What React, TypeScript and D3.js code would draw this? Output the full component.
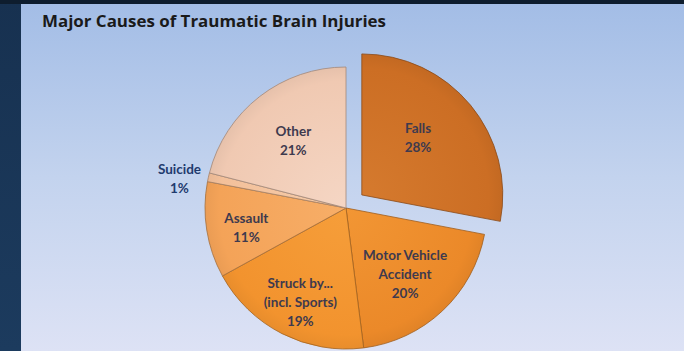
import React from "react";
import * as d3 from "d3";

const categories = ["Falls", "Motor Vehicle Accident", "Struck by... (incl. Sports)", "Assault", "Suicide", "Other"];
const values = [28, 20, 19, 11, 1, 21];
const labelLines = [
  ["Falls", "28%"],
  ["Motor Vehicle", "Accident", "20%"],
  ["Struck by...", "(incl. Sports)", "19%"],
  ["Assault", "11%"],
  ["Suicide", "1%"],
  ["Other", "21%"],
];
const colors = ["#CC6E24", "#EB8929", "#F2932E", "#F4A358", "#F3C09A", "#F0C9B2"];
const colorsLight = ["#D57A2E", "#F29634", "#F69E3A", "#F7AE68", "#F6CCAA", "#F5D6C4"];
// label distance from the slice centre (fraction of radius) and angular nudge (degrees)
const labelRadius = [0.57, 0.63, 0.74, 0.72, 1.2, 0.61];
const labelAngleShift = [-6, 1.5, -1, -2, -2.4, 0];

const W = 684;
const H = 351;
const cx = 346;
const cy = 208;
const R = 141;
const explodeOffset = 20.5;

export default function App() {
  const pie = d3.pie<number>().value((d) => d).sort(null);
  const arcs = pie(values);
  const arcGen = d3.arc<d3.PieArcDatum<number>>().innerRadius(0).outerRadius(R);
  const font = "Lato, 'Open Sans', sans-serif";

  return (
    <svg width={W} height={H} style={{ position: "absolute", left: 0, top: 0 }}>
      <defs>
        <linearGradient id="bg" x1="0" y1="0" x2="0" y2="1">
          <stop offset="0" stopColor="#A3BDE6" />
          <stop offset="0.5" stopColor="#C3D3EE" />
          <stop offset="1" stopColor="#DDE2F5" />
        </linearGradient>
        <linearGradient id="border" x1="0" y1="0" x2="0" y2="1">
          <stop offset="0" stopColor="#173150" />
          <stop offset="1" stopColor="#1C3B5E" />
        </linearGradient>
        {colors.map((c, i) => (
          <radialGradient key={i} id={`sg${i}`} cx={0} cy={0} r={R} gradientUnits="userSpaceOnUse">
            <stop offset="0" stopColor={colorsLight[i]} />
            <stop offset="0.9" stopColor={c} />
            <stop offset="1" stopColor={d3.color(c)!.darker(0.12).toString()} />
          </radialGradient>
        ))}
      </defs>
      <rect x={0} y={0} width={W} height={H} fill="url(#border)" />
      <rect x={0} y={0} width={W} height={4} fill="#0E1D2E" />
      <rect x={21} y={4} width={W - 21} height={H - 4} fill="url(#bg)" />
      <text
        x={42}
        y={27}
        fontFamily="'Open Sans', sans-serif"
        fontWeight={700}
        fontSize={16.5}
        fill="#1A1A1A"
        textLength={344}
        lengthAdjust="spacingAndGlyphs"
      >
        Major Causes of Traumatic Brain Injuries
      </text>
      {arcs.map((a, i) => {
        const mid = (a.startAngle + a.endAngle) / 2;
        const off = i === 0 ? explodeOffset : 0;
        const dx = Math.sin(mid) * off;
        const dy = -Math.cos(mid) * off;
        return (
          <g key={categories[i]} transform={`translate(${cx + dx},${cy + dy})`}>
            <path
              d={arcGen(a) || ""}
              fill={`url(#sg${i})`}
              stroke={d3.color(colors[i])!.darker(1.1).toString()}
              strokeWidth={0.8}
              strokeLinejoin="round"
            />
          </g>
        );
      })}
      {arcs.map((a, i) => {
        const mid = (a.startAngle + a.endAngle) / 2;
        const la = mid + (labelAngleShift[i] * Math.PI) / 180;
        const off = i === 0 ? explodeOffset : 0;
        const outside = i === 4;
        const rr = R * labelRadius[i];
        const lx = cx + Math.sin(mid) * off + Math.sin(la) * rr;
        const ly = cy - Math.cos(mid) * off - Math.cos(la) * rr;
        const lines = labelLines[i];
        const lh = 19;
        const startY = ly - ((lines.length - 1) * lh) / 2;
        return (
          <text
            key={`l${i}`}
            textAnchor="middle"
            fontFamily={font}
            fontWeight={700}
            fontSize={13.5}
            fill={outside ? "#1F3B6E" : "#3E3A4E"}
          >
            {lines.map((t, j) => (
              <tspan key={j} x={lx} y={startY + j * lh + 5}>
                {t}
              </tspan>
            ))}
          </text>
        );
      })}
    </svg>
  );
}
